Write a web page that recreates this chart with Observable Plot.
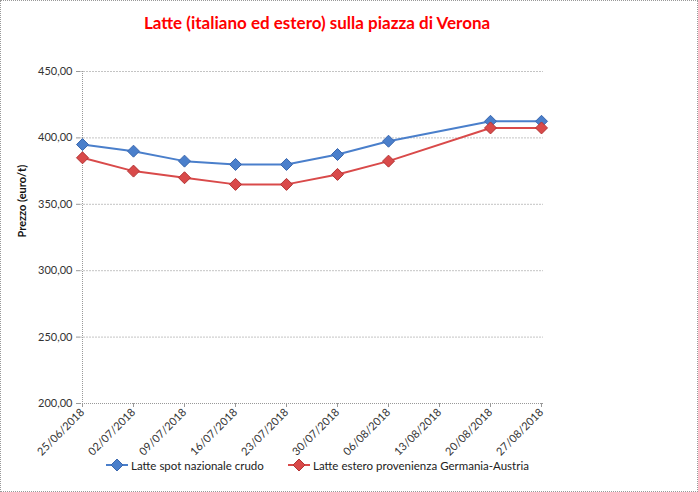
<!DOCTYPE html>
<html>
<head>
<meta charset="utf-8">
<script src="https://cdn.jsdelivr.net/npm/d3@7"></script>
<script src="https://cdn.jsdelivr.net/npm/@observablehq/plot@0.6"></script>
<style>
  html, body { margin: 0; padding: 0; background: #fff; }
  #wrap { position: relative; width: 696px; height: 490px; border: 1px dotted #999; overflow: hidden; font-family: Lato, "Open Sans", sans-serif; }
  #title { position: absolute; left: 0; width: 632px; top: 11px; text-align: center; color: #ff0000; font-weight: bold; font-size: 17px; }
  #chart { position: absolute; left: -2px; top: -1px; }
  #legend { position: absolute; top: 457px; left: 0; font-size: 11.5px; color: #222; }
  .li { position: absolute; white-space: nowrap; display: flex; align-items: center; }
  .li svg { margin-right: 3px; }
</style>
</head>
<body>
<div id="wrap">
  <div id="title">Latte (italiano ed estero) sulla piazza di Verona</div>
  <div id="chart"></div>
  <div id="legend"></div>
</div>
<script>
const dates = ["25/06/2018","02/07/2018","09/07/2018","16/07/2018","23/07/2018","30/07/2018","06/08/2018","13/08/2018","20/08/2018","27/08/2018"];
const spotNazionale = [395, 390, 382.5, 380, 380, 387.5, 397.5, null, 412.5, 412.5];
const esteroGermAustria = [385, 375, 370, 365, 365, 372.5, 382.5, null, 407.5, 407.5];
const seriesNames = ["Latte spot nazionale crudo", "Latte estero provenienza Germania-Austria"];
const seriesFill = ["#4A7FCB", "#D94A4A"];
const seriesStroke = ["#3B68AE", "#B33434"];
const yTicks = [200, 250, 300, 350, 400, 450];

const rows = [];
[spotNazionale, esteroGermAustria].forEach((vals, s) => {
  vals.forEach((v, i) => { if (v != null) rows.push({date: dates[i], value: v, series: seriesNames[s]}); });
});

const diamond = {
  draw(ctx, size) {
    const h = Math.sqrt(size / Math.PI) * 1.2;
    ctx.moveTo(0, -h); ctx.lineTo(h, 0); ctx.lineTo(0, h); ctx.lineTo(-h, 0); ctx.closePath();
  }
};
const fmt = v => d3.format(".2f")(v).replace(".", ",");

const plot = Plot.plot({
  width: 698, height: 472,
  marginTop: 71, marginBottom: 69, marginLeft: 81, marginRight: 154,
  style: { fontFamily: "Lato, 'Open Sans', sans-serif", fontSize: "11px", color: "#333", background: "transparent", overflow: "visible" },
  x: { type: "point", domain: dates, padding: 0, label: null },
  y: { domain: [200, 450], ticks: yTicks, label: null },
  color: { domain: seriesNames, range: seriesFill },
  marks: [
    Plot.ruleY(yTicks.slice(1), { stroke: "#c4c4c4", strokeWidth: 1, strokeDasharray: "2,1" }),
    Plot.ruleX([dates[0]], { stroke: "#999", strokeDasharray: "1,1" }),
    Plot.ruleY([200], { stroke: "#999", strokeDasharray: "1,1" }),
    Plot.axisY({ ticks: yTicks, tickFormat: fmt, tickSize: 4, tickPadding: 4, stroke: "#999", fill: "#333", label: null, fontSize: 11 }),
    Plot.axisX({ tickSize: 4, tickRotate: -45, tickPadding: 3, stroke: "#999", fill: "#333", label: null, fontSize: 11 }),
    Plot.text(["Prezzo (euro/t)"], { frameAnchor: "left", dx: -58, dy: 0, rotate: -90, fontWeight: "bold", fontSize: 11, fill: "#111" }),
    Plot.line(rows, { x: "date", y: "value", z: "series", stroke: "series", strokeWidth: 2 }),
    Plot.dot(rows, { x: "date", y: "value", symbol: diamond, r: 5, fill: "series", stroke: d => seriesStroke[seriesNames.indexOf(d.series)], strokeWidth: 1 })
  ]
});
document.getElementById("chart").appendChild(plot);

const legend = document.getElementById("legend");
const lefts = [105, 287];
seriesNames.forEach((n, i) => {
  const el = document.createElement("div");
  el.className = "li";
  el.style.left = lefts[i] + "px";
  el.innerHTML = `<svg width="22" height="14"><line x1="0" x2="22" y1="7" y2="7" stroke="${seriesFill[i]}" stroke-width="2"/><path d="M11,1 L17,7 L11,13 L5,7 Z" fill="${seriesFill[i]}" stroke="${seriesStroke[i]}"/></svg><span>${n}</span>`;
  legend.appendChild(el);
});
</script>
</body>
</html>
